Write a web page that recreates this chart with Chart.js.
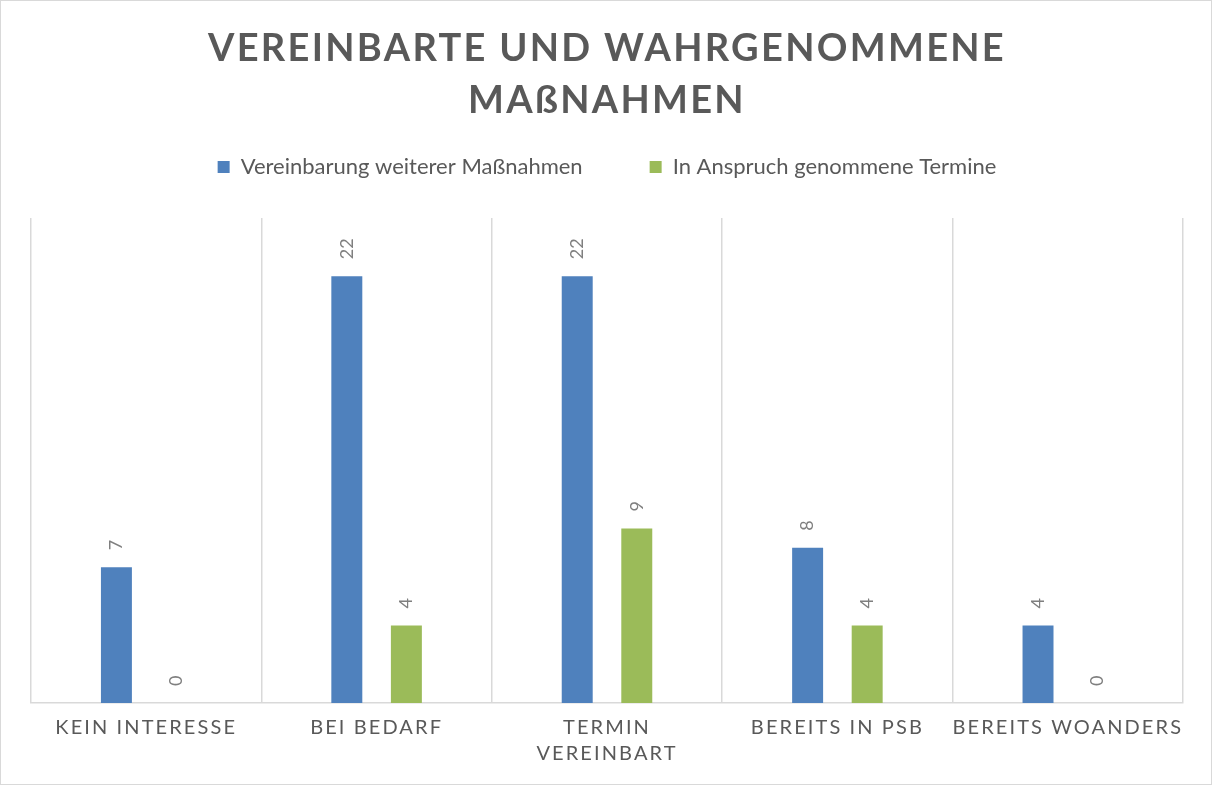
<!DOCTYPE html>
<html>
<script src="https://cdn.jsdelivr.net/npm/chart.js"></script>

<body style="margin: 0;">
  <div style="width: 1212px; height: 785px;">
    <canvas id="chart"></canvas>
  </div>
  <script>
    const categories = ["KEIN INTERESSE", "BEI BEDARF", ["TERMIN", "VEREINBART"], "BEREITS IN PSB", "BEREITS WOANDERS"];
    const vereinbarung = [7, 22, 22, 8, 4];
    const inAnspruch = [0, 4, 9, 4, 0];
    const seriesNames = ["Vereinbarung weiterer Maßnahmen", "In Anspruch genommene Termine"];
    const titleLines = ["VEREINBARTE UND WAHRGENOMMENE", "MAßNAHMEN"];
    const yMax = 25;

    const grey = "#595959";

    // canvas has no letter-spacing option in Chart.js, so wrap the draw calls
    function withSpacing(obj, method, spacing) {
      if (!obj || obj[method].spaced) return;
      const orig = obj[method];
      const fn = function (...args) {
        const ctx = this.ctx;
        const old = ctx.letterSpacing;
        ctx.letterSpacing = spacing;
        orig.apply(this, args);
        ctx.letterSpacing = old;
      };
      fn.spaced = true;
      obj[method] = fn;
    }

    const spacingPlugin = {
      id: "spacing",
      beforeDraw(chart) {
        withSpacing(chart.titleBlock, "draw", "2.3px");
        withSpacing(chart.scales.x, "drawLabels", "2.1px");
      },
    };

    const framePlugin = {
      id: "frame",
      beforeDraw(chart) {
        const ctx = chart.ctx;
        ctx.save();
        ctx.fillStyle = "#fff";
        ctx.fillRect(0, 0, chart.width, chart.height);
        ctx.strokeStyle = "#d9d9d9";
        ctx.lineWidth = 1;
        ctx.strokeRect(0.5, 0.5, chart.width - 1, chart.height - 1);
        ctx.restore();
      },
    };

    const barLabels = {
      id: "barLabels",
      afterDatasetsDraw(chart) {
        const ctx = chart.ctx;
        ctx.save();
        ctx.fillStyle = "#7f7f7f";
        ctx.font = "18px Lato";
        ctx.textAlign = "left";
        ctx.textBaseline = "middle";
        chart.data.datasets.forEach((ds, i) => {
          chart.getDatasetMeta(i).data.forEach((bar, j) => {
            ctx.save();
            ctx.translate(bar.x, bar.y - 17);
            ctx.rotate(-Math.PI / 2);
            ctx.fillText(String(ds.data[j]), 0, 0);
            ctx.restore();
          });
        });
        ctx.restore();
      },
    };

    new Chart("chart", {
      type: "bar",
      data: {
        labels: categories,
        datasets: [
          {
            label: seriesNames[0],
            data: vereinbarung,
            backgroundColor: "#4f81bd",
            borderWidth: 0,
            categoryPercentage: 0.517,
            barPercentage: 0.52,
          },
          {
            label: seriesNames[1],
            data: inAnspruch,
            backgroundColor: "#9bbb59",
            borderWidth: 0,
            categoryPercentage: 0.517,
            barPercentage: 0.52,
          },
        ],
      },
      options: {
        responsive: true,
        maintainAspectRatio: false,
        animation: false,
        layout: { padding: { left: 31, right: 29, bottom: 6, top: 0 } },
        plugins: {
          title: {
            display: true,
            text: titleLines,
            color: grey,
            font: { family: "Lato", size: 38, weight: "bold", lineHeight: "52px" },
            // legend padding is wide (item gap), so let it overlap the title box
            padding: { top: 23, bottom: -38 },
          },
          subtitle: {
            // empty spacer between legend and plot area
            display: true,
            text: "",
            weight: 500,
            font: { size: 1, lineHeight: 1 },
            padding: { top: 29, bottom: 0 },
          },
          legend: {
            labels: {
              color: grey,
              boxWidth: 12,
              boxHeight: 12,
              padding: 67,
              font: { family: "Lato", size: 22 },
            },
          },
          tooltip: { enabled: false },
        },
        scales: {
          x: {
            grid: { color: "#d9d9d9", lineWidth: 1.5, drawTicks: false, offset: true },
            border: { color: "#d9d9d9", width: 1.5 },
            ticks: {
              color: grey,
              font: { family: "Lato", size: 20, lineHeight: "26px" },
              padding: 12,
              maxRotation: 0,
              minRotation: 0,
              autoSkip: false,
            },
          },
          y: { display: false, min: 0, max: yMax },
        },
      },
      plugins: [framePlugin, spacingPlugin, barLabels],
    });
  </script>
</body>

</html>
